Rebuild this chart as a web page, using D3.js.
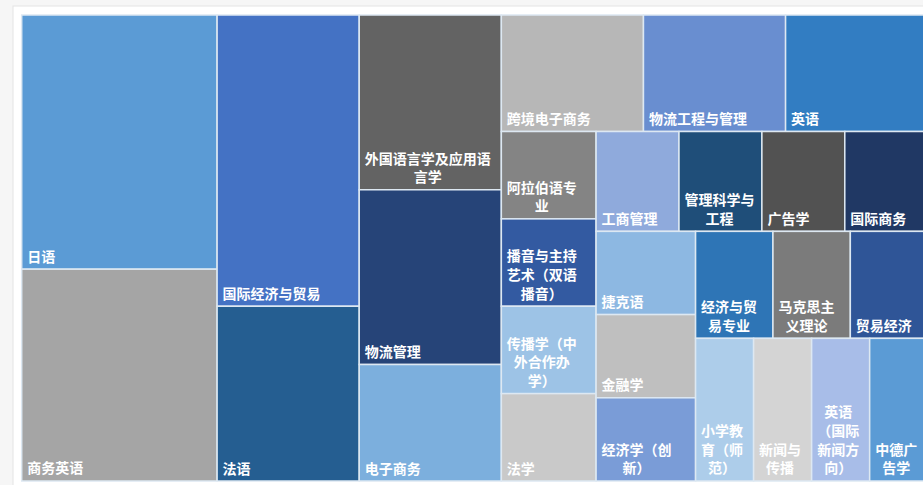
<!DOCTYPE html>
<html>
<head>
<meta charset="utf-8">
<script src="https://cdnjs.cloudflare.com/ajax/libs/d3/7.8.5/d3.min.js"></script>
<style>
	body { margin: 0; background: #f6f6f6; overflow: hidden; }
	svg { display: block; }
	.cell { stroke: #dde8f2; stroke-width: 1.5; }
	.label { fill: #ffffff; font-family: "Noto Sans CJK SC", "Noto Sans", sans-serif; font-weight: bold; font-size: 14px; }
</style>
</head>
<body>
<svg width="923" height="485"></svg>
<script>
var majors = ["日语", "商务英语", "国际经济与贸易", "法语", "外国语言学及应用语言学", "物流管理", "电子商务",
	"跨境电子商务", "物流工程与管理", "英语", "阿拉伯语专业", "播音与主持艺术（双语播音）", "传播学（中外合作办学）",
	"法学", "工商管理", "管理科学与工程", "广告学", "国际商务", "捷克语", "金融学", "经济学（创新）",
	"经济与贸易专业", "马克思主义理论", "贸易经济", "小学教育（师范）", "新闻与传播", "英语（国际新闻方向）", "中德广告学"];
var counts = [6, 5, 5, 3, 3, 3, 2, 2, 2, 2, 1, 1, 1, 1, 1, 1, 1, 1, 1, 1, 1, 1, 1, 1, 1, 1, 1, 1];
var colors = ["#5b9bd5", "#a5a5a5", "#4472c4", "#255e91", "#636363", "#264478", "#7cafdd",
	"#b7b7b7", "#698ed0", "#327dc2", "#848484", "#335aa1", "#9dc3e6",
	"#c9c9c9", "#8faadc", "#1f4e79", "#525252", "#203864", "#8db8e2", "#bfbfbf", "#7a9cd7",
	"#2e75b6", "#7b7b7b", "#2f5597", "#adcdea", "#d4d4d4", "#a8bde8", "#5b9bd5"];

var fontSize = 14;
var lineHeight = 18.7;

// strips like excel: keep adding while the newest item gets squarer,
// the last few items go into one strip in the same direction as the one before
function excelTile(parent, x0, y0, x1, y1) {
	var nodes = parent.children;
	var n = nodes.length;
	var value = parent.value;
	var i0 = 0;
	var lastDice = false;

	while (i0 < n) {
		var dx = x1 - x0, dy = y1 - y0;
		var dice = dx < dy;
		var i1 = i0, sum = 0;

		if (i0 > 0 && n - i0 <= 4) {
			dice = lastDice;
			i1 = n;
			sum = value;
		} else {
			var best = Infinity;
			while (i1 < n) {
				var v = nodes[i1].value;
				var s = sum + v;
				var thick = dice ? dy * s / value : dx * s / value;
				var len = dice ? dx * v / s : dy * v / s;
				var r = Math.max(thick / len, len / thick);
				if (r > best) break;
				best = r;
				sum = s;
				i1++;
			}
		}

		var row = { value: sum, children: nodes.slice(i0, i1) };
		if (dice) {
			d3.treemapDice(row, x0, y0, x1, i1 < n ? y0 + dy * sum / value : y1);
			y0 += dy * sum / value;
		} else {
			d3.treemapSlice(row, x0, y0, i1 < n ? x0 + dx * sum / value : x1, y1);
			x0 += dx * sum / value;
		}
		value -= sum;
		lastDice = dice;
		i0 = i1;
	}
}

var svg = d3.select("svg");

// panel frame
svg.append("rect")
	.attr("x", 13)
	.attr("y", 6)
	.attr("width", 930)
	.attr("height", 490)
	.attr("fill", "#ffffff")
	.attr("stroke", "#e3e3e3");

var mapLeft = 21.7, mapTop = 15, mapRight = 927.7, mapBottom = 481;

var table = majors.map(function(d, i) { return { name: d, value: counts[i], color: colors[i] }; });

var root = d3.hierarchy({ children: table })
	.sum(function(d) { return d.value || 0; })
	.sort(function(a, b) { return b.value - a.value; });

d3.treemap()
	.tile(excelTile)
	.size([mapRight - mapLeft, mapBottom - mapTop])(root);

var g = svg.append("g")
	.attr("transform", "translate(" + mapLeft + "," + mapTop + ")");

var leaf = g.selectAll(".leaf")
	.data(root.leaves())
	.enter().append("g")
	.attr("class", "leaf")
	.attr("transform", function(d) { return "translate(" + d.x0 + "," + d.y0 + ")"; });

leaf.append("rect")
	.attr("class", "cell")
	.attr("width", function(d) { return d.x1 - d.x0; })
	.attr("height", function(d) { return d.y1 - d.y0; })
	.attr("fill", function(d) { return d.data.color; });

// measuring text for wrapping
var probe = svg.append("text").attr("class", "label").attr("x", -500).attr("y", -500);
function measure(s) {
	probe.text(s);
	return probe.node().getComputedTextLength();
}

function wrapLabel(name, maxW) {
	var chars = Array.from(name);
	var lines = [];
	var cur = "";
	for (var i = 0; i < chars.length; i++) {
		var ch = chars[i];
		if (cur && measure(cur + ch) > maxW) {
			var next = ch;
			if (ch === "）" && cur.length > 1) {
				next = cur.slice(-1) + ch;
				cur = cur.slice(0, -1);
			} else if (cur.slice(-1) === "（" && cur.length > 1) {
				next = "（" + ch;
				cur = cur.slice(0, -1);
			}
			lines.push(cur);
			cur = next;
		} else {
			cur += ch;
		}
	}
	if (cur) lines.push(cur);
	return lines;
}

leaf.each(function(d) {
	var w = d.x1 - d.x0, h = d.y1 - d.y0;
	var lines = wrapLabel(d.data.name, w - 11.5);
	var blockW = d3.max(lines, measure);
	var cx = 5.5 + blockW / 2;

	var text = d3.select(this).append("text")
		.attr("class", "label")
		.attr("text-anchor", "middle");

	text.selectAll("tspan")
		.data(lines)
		.enter().append("tspan")
		.attr("x", cx)
		.attr("y", function(t, i) { return h - 7.5 - (lines.length - 1 - i) * lineHeight; })
		.text(function(t) { return t; });
});

probe.remove();
</script>
</body>
</html>
